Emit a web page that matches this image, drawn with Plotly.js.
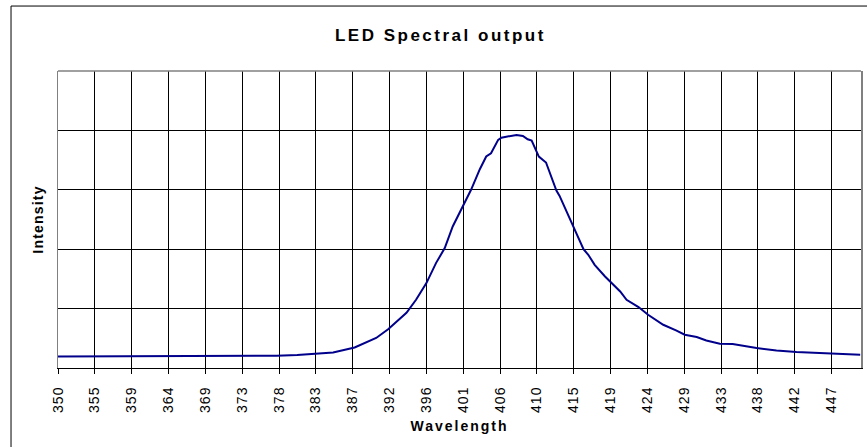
<!DOCTYPE html>
<html>
<head>
<meta charset="utf-8">
<script src="https://cdn.plot.ly/plotly-3.0.1.min.js"></script>
<style>
html,body{margin:0;padding:0;background:#fff;}
#chart{width:867px;height:447px;}
#chart .gtitle{letter-spacing:2.5px;}
#chart .g-xtitle text{letter-spacing:2px;}
#chart .g-ytitle text{letter-spacing:1.2px;}
#chart .xtick text{letter-spacing:1px;}
</style>
</head>
<body>
<div id="chart"></div>
<script>
// Wavelength (nm) and relative intensity
const wavelength = [350.0, 355.0, 361.5, 368.0, 374.1, 377.4, 380.0, 382.4, 384.5, 387.2, 389.9, 391.4, 393.7, 394.9, 396.2, 397.4, 398.5, 399.5, 400.8, 401.8, 402.9, 403.7, 404.3, 405.2, 405.6, 406.5, 407.5, 408.3, 408.9, 409.4, 410.3, 411.2, 411.9, 412.5, 412.9, 413.7, 414.8, 415.9, 416.5, 417.3, 418.6, 419.4, 420.5, 421.3, 422.8, 424.0, 425.9, 427.5, 428.6, 430.1, 431.3, 433.0, 434.6, 437.6, 440.1, 442.6, 445.1, 448.0, 450.6];
const intensity  = [0.195, 0.195, 0.195, 0.196, 0.198, 0.207, 0.218, 0.235, 0.262, 0.346, 0.505, 0.653, 0.93, 1.149, 1.43, 1.766, 2.018, 2.382, 2.72, 3.0, 3.347, 3.56, 3.616, 3.84, 3.878, 3.9, 3.924, 3.907, 3.85, 3.83, 3.56, 3.46, 3.196, 2.987, 2.898, 2.662, 2.326, 2.0, 1.906, 1.737, 1.54, 1.43, 1.288, 1.149, 1.026, 0.896, 0.728, 0.632, 0.56, 0.521, 0.464, 0.409, 0.404, 0.336, 0.296, 0.269, 0.252, 0.236, 0.224];
// Category-style tick labels of the wavelength axis
const tickLabels = ['350','355','359','364','369','373','378','383','387','392','396','401','406','410','415','419','424','429','433','438','442','447'];
const yGrid = [1, 2, 3, 4];

const xStart = 350, xEndLabel = 447;
const step = (xEndLabel - xStart) / (tickLabels.length - 1);
const tickVals = tickLabels.map((_, i) => xStart + i * step);

const font = 'Liberation Sans, Arial, sans-serif';

const trace = {
  x: wavelength, y: intensity, type: 'scatter', mode: 'lines',
  line: {color: '#00008B', width: 2}, hoverinfo: 'skip'
};

const layout = {
  width: 867, height: 447,
  margin: {l: 58, r: 6, t: 71, b: 79},
  paper_bgcolor: '#fff', plot_bgcolor: '#fff',
  showlegend: false,
  font: {family: font, color: '#000'},
  title: {text: '<b>LED Spectral output</b>', font: {family: font, size: 17, color: '#000'}, x: 0.508, xanchor: 'center', y: 0.922, yanchor: 'middle'},
  xaxis: {
    range: [350, 450.7], tickmode: 'array', tickvals: tickVals, ticktext: tickLabels,
    tickangle: -90, tickfont: {family: font, size: 14, color: '#000'},
    ticks: 'outside', ticklen: 5, tickcolor: '#000', ticklabelstandoff: 7,
    showgrid: true, gridcolor: '#000', gridwidth: 1,
    showline: true, linecolor: '#000', linewidth: 1, zeroline: false,
    title: {text: '<b>Wavelength</b>', font: {family: font, size: 14, color: '#000'}, standoff: 12}
  },
  yaxis: {
    range: [0, 5], tickmode: 'array', tickvals: yGrid, showticklabels: false, ticks: '',
    showgrid: true, gridcolor: '#000', gridwidth: 1,
    showline: true, mirror: true, linecolor: '#808080', linewidth: 1.5, zeroline: false,
    title: {text: '<b>Intensity</b>', font: {family: font, size: 14, color: '#000'}, standoff: 9}
  },
  shapes: [
    {type: 'line', xref: 'paper', yref: 'paper', x0: 0, x1: 1, y0: 1, y1: 1, line: {color: '#808080', width: 1.5}},
    {type: 'rect', xref: 'paper', yref: 'paper', x0: -0.0585, x1: 1.3, y0: -1, y1: 1.2187, line: {color: '#000', width: 1}, fillcolor: 'rgba(0,0,0,0)', layer: 'below'}
  ]
};

Plotly.newPlot('chart', [trace], layout, {staticPlot: true, displayModeBar: false});
</script>
</body>
</html>
